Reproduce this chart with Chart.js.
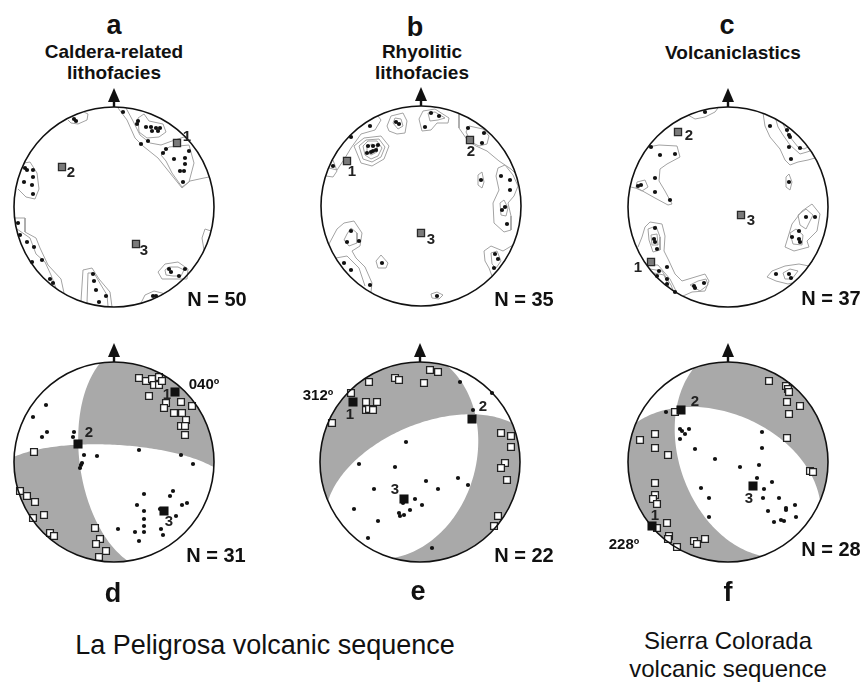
<!DOCTYPE html>
<html>
<head>
<meta charset="utf-8">
<script src="https://cdn.jsdelivr.net/npm/chart.js@4.4.1/dist/chart.umd.min.js"></script>
<style>
  body { margin: 0; background: #fff; }
  #page { position: relative; width: 861px; height: 686px; overflow: hidden; background: #fff;
          font-family: "Liberation Sans", Arial, sans-serif; color: #111; }
  #page canvas { position: absolute; }
  .t { position: absolute; transform: translate(-50%, -50%); line-height: 1; white-space: nowrap; }
</style>
</head>
<body>
<div id="page"></div>
<script>
// ---- Data (net coordinates: x = east, y = north, unit circle = primitive) ----

// a: Caldera-related lithofacies
const aDots = [[0.09,0.95],[0.24,0.86],[0.23,0.83],[0.32,0.80],[0.37,0.80],[0.42,0.79],[0.46,0.79],[0.38,0.76],[0.44,0.76],
  [0.34,0.66],[0.27,0.63],[0.52,0.58],[0.49,0.54],[0.60,0.48],[0.71,0.49],[0.75,0.56],[0.71,0.43],[0.66,0.36],[0.70,0.36],
  [0.69,0.25],[-0.40,0.88],[-0.38,0.86],[-0.89,0.39],[-0.87,0.37],[-0.81,0.37],[-0.81,0.30],[-0.90,0.25],[-0.82,0.22],
  [-0.81,0.13],[-0.96,-0.16],[-0.94,-0.28],[-0.87,-0.35],[-0.80,-0.40],[-0.72,-0.53],[-0.82,-0.55],[-0.64,-0.72],
  [-0.61,-0.76],[-0.21,-0.67],[-0.20,-0.74],[-0.18,-0.83],[-0.08,-0.89],[-0.15,-0.95],[0.55,-0.62],[0.57,-0.65],
  [0.65,-0.69],[0.71,-0.62],[0.39,-0.89],[0.42,-0.89]];
const aKeys = [[0.63,0.64],[-0.52,0.40],[0.22,-0.37]];
const aLoops = [
  [[0.24,0.89],[0.30,0.93],[0.35,0.86],[0.49,0.83],[0.52,0.75],[0.45,0.70],[0.33,0.69],[0.25,0.75]],
  [[0.47,0.52],[0.55,0.60],[0.75,0.62],[0.80,0.44],[0.75,0.25],[0.68,0.20],[0.58,0.34],[0.52,0.46]],
  [[0.44,-0.65],[0.51,-0.57],[0.64,-0.55],[0.74,-0.62],[0.73,-0.72],[0.61,-0.72],[0.48,-0.72]],
  [[0.51,-0.63],[0.55,-0.60],[0.64,-0.60],[0.70,-0.63],[0.67,-0.69],[0.59,-0.69],[0.52,-0.68]]
];
const aArcs = [
  [[0.04,0.99],[0.13,0.87],[0.21,0.69],[0.29,0.61],[0.44,0.49],[0.56,0.34],[0.68,0.19],[0.76,0.26],[0.90,0.29],[0.95,0.30]],
  [[0.12,0.99],[0.19,0.86],[0.26,0.72],[0.36,0.64],[0.47,0.62],[0.58,0.66],[0.70,0.70],[0.72,0.69]],
  [[-0.90,0.44],[-0.84,0.45],[-0.77,0.34],[-0.75,0.18],[-0.79,0.08],[-0.88,0.10],[-0.96,0.18]],
  [[-0.46,0.87],[-0.43,0.84],[-0.36,0.83],[-0.27,0.87],[-0.26,0.93],[-0.30,0.95]],
  [[-0.99,-0.11],[-0.89,-0.11],[-0.89,-0.25],[-0.78,-0.31],[-0.74,-0.41],[-0.66,-0.58],[-0.53,-0.72],[-0.50,-0.86]],
  [[-0.97,-0.22],[-0.84,-0.31],[-0.78,-0.47],[-0.69,-0.55],[-0.63,-0.68],[-0.58,-0.81]],
  [[-0.33,-0.94],[-0.31,-0.63],[-0.22,-0.61],[-0.15,-0.72],[-0.04,-0.85],[-0.02,-1.0]],
  [[-0.27,-0.96],[-0.26,-0.66],[-0.20,-0.66],[-0.13,-0.78],[-0.07,-0.88],[-0.06,-0.99]],
  [[0.27,-0.96],[0.31,-0.88],[0.40,-0.84],[0.48,-0.86],[0.50,-0.87]],
  [[0.90,-0.43],[0.88,-0.31],[0.91,-0.22],[0.97,-0.24]]
];

// b: Rhyolitic lithofacies
const bDots = [[-0.51,0.80],[-0.70,0.69],[-0.88,0.40],[-0.53,0.60],[-0.48,0.60],[-0.43,0.61],[-0.54,0.53],[-0.50,0.54],
  [-0.48,0.55],[-0.45,0.56],[-0.25,0.84],[-0.22,0.82],[0.10,0.93],[0.18,0.90],[0.04,0.79],[0.47,0.78],[0.63,0.73],
  [0.61,0.63],[0.60,0.26],[0.80,0.30],[0.89,0.26],[0.89,0.16],[0.84,-0.01],[0.81,-0.04],[0.86,-0.18],[-0.70,-0.25],
  [-0.74,-0.36],[-0.62,-0.35],[-0.77,-0.57],[-0.70,-0.64],[-0.39,-0.57],[-0.51,-0.79],[0.16,-0.90],[0.74,-0.48],
  [0.77,-0.53],[0.73,-0.62]];
const bKeys = [[-0.74,0.45],[0.49,0.66],[0.00,-0.27]];
const bLoops = [
  [[-0.67,0.60],[-0.57,0.68],[-0.40,0.70],[-0.32,0.60],[-0.37,0.47],[-0.49,0.40],[-0.60,0.43]],
  [[-0.62,0.60],[-0.55,0.66],[-0.42,0.67],[-0.36,0.59],[-0.40,0.49],[-0.49,0.44],[-0.58,0.47]],
  [[-0.58,0.60],[-0.53,0.65],[-0.44,0.65],[-0.39,0.58],[-0.43,0.50],[-0.50,0.47],[-0.56,0.51]],
  [[-0.54,0.59],[-0.49,0.62],[-0.44,0.60],[-0.44,0.54],[-0.50,0.51],[-0.54,0.54]],
  [[-0.34,0.80],[-0.30,0.90],[-0.18,0.93],[-0.14,0.85],[-0.16,0.73],[-0.24,0.72],[-0.32,0.75]],
  [[-0.28,0.83],[-0.26,0.88],[-0.20,0.87],[-0.18,0.80],[-0.23,0.77]],
  [[-0.02,0.87],[0.02,0.95],[0.14,0.97],[0.28,0.88],[0.27,0.83],[0.16,0.83],[0.10,0.76],[0.01,0.75]],
  [[0.07,0.93],[0.14,0.94],[0.24,0.88],[0.17,0.86],[0.09,0.85]],
  [[0.45,0.74],[0.48,0.80],[0.62,0.77],[0.68,0.70],[0.66,0.62],[0.58,0.60],[0.50,0.64]],
  [[0.77,0.38],[0.84,0.41],[0.92,0.31],[0.97,0.20],[0.93,0.10],[0.87,0.03],[0.90,-0.10],[0.90,-0.24],[0.83,-0.26],
   [0.73,-0.17],[0.72,0.03],[0.78,0.16],[0.75,0.30]],
  [[0.79,0.03],[0.83,0.06],[0.87,-0.02],[0.85,-0.10],[0.80,-0.09]],
  [[0.57,0.31],[0.61,0.34],[0.63,0.24],[0.61,0.18],[0.57,0.21]],
  [[-0.74,-0.28],[-0.70,-0.22],[-0.64,-0.27],[-0.64,-0.37],[-0.72,-0.40],[-0.77,-0.34]],
  [[-0.45,-0.55],[-0.40,-0.49],[-0.33,-0.57],[-0.35,-0.62],[-0.43,-0.62]],
  [[0.10,-0.88],[0.16,-0.86],[0.22,-0.89],[0.18,-0.93],[0.11,-0.92]],
  [[0.70,-0.47],[0.76,-0.45],[0.80,-0.55],[0.75,-0.62],[0.71,-0.58]]
];
const bArcs = [
  [[-0.92,0.38],[-0.84,0.36],[-0.76,0.48],[-0.70,0.58],[-0.60,0.72],[-0.46,0.76],[-0.40,0.86],[-0.43,0.90]],
  [[0.38,0.92],[0.38,0.78],[0.47,0.65],[0.55,0.60],[0.66,0.55],[0.78,0.45],[0.90,0.37],[0.94,0.33]],
  [[-0.92,-0.38],[-0.84,-0.23],[-0.77,-0.17],[-0.67,-0.15],[-0.59,-0.27],[-0.61,-0.40],[-0.69,-0.45],[-0.65,-0.52],
   [-0.56,-0.61],[-0.49,-0.77],[-0.50,-0.86]],
  [[-0.85,-0.52],[-0.74,-0.50],[-0.62,-0.62],[-0.56,-0.80]],
  [[0.92,-0.39],[0.82,-0.45],[0.70,-0.40],[0.63,-0.45],[0.64,-0.55],[0.68,-0.62],[0.71,-0.70]],
  [[-0.95,0.30],[-0.88,0.29],[-0.84,0.35],[-0.88,0.46]]
];

// c: Volcaniclastics
const cDots = [[-0.23,0.95],[-0.77,0.60],[-0.68,0.52],[-0.53,0.53],[-0.73,0.29],[-0.90,0.21],[-0.87,0.22],[-0.73,0.15],
  [-0.58,0.07],[0.42,0.81],[0.59,0.77],[0.61,0.72],[0.62,0.70],[0.61,0.60],[0.72,0.59],[0.63,0.48],[0.61,0.25],
  [0.78,-0.10],[0.87,-0.10],[0.71,-0.24],[0.64,-0.30],[0.71,-0.32],[0.72,-0.35],[0.48,-0.67],[0.61,-0.67],[0.63,-0.71],
  [-0.73,-0.21],[-0.74,-0.32],[-0.73,-0.35],[-0.71,-0.42],[-0.61,-0.60],[-0.69,-0.64],[-0.71,-0.69],[-0.61,-0.72],
  [-0.61,-0.77],[-0.53,-0.85],[-0.34,-0.79],[-0.33,-0.81],[-0.24,-0.76]];
const cKeys = [[-0.77,-0.55],[-0.50,0.75],[0.13,-0.08]];
const cLoops = [
  [[0.58,0.30],[0.61,0.33],[0.64,0.25],[0.62,0.17],[0.58,0.20]],
  [[-0.91,0.25],[-0.83,0.27],[-0.80,0.20],[-0.86,0.16],[-0.92,0.19]],
  [[0.57,-0.40],[0.64,-0.17],[0.74,-0.04],[0.84,0.03],[0.92,-0.07],[0.89,-0.24],[0.79,-0.34],[0.81,-0.40],[0.66,-0.44]],
  [[0.70,-0.08],[0.78,-0.02],[0.85,-0.08],[0.78,-0.22],[0.72,-0.18]],
  [[0.62,-0.26],[0.68,-0.22],[0.75,-0.28],[0.74,-0.38],[0.65,-0.37]],
  [[0.55,-0.66],[0.62,-0.62],[0.70,-0.64],[0.64,-0.72],[0.57,-0.72]],
  [[-0.80,-0.22],[-0.72,-0.19],[-0.68,-0.30],[-0.68,-0.43],[-0.75,-0.45],[-0.79,-0.33]],
  [[-0.77,-0.28],[-0.71,-0.27],[-0.70,-0.38],[-0.76,-0.38]],
  [[-0.38,-0.78],[-0.30,-0.74],[-0.22,-0.72],[-0.20,-0.78],[-0.28,-0.84]]
];
const cArcs = [
  [[-0.40,0.92],[-0.33,0.88],[-0.23,0.90],[-0.13,0.95],[-0.10,0.99]],
  [[-0.80,0.60],[-0.69,0.62],[-0.51,0.61],[-0.48,0.50],[-0.61,0.43],[-0.68,0.38],[-0.69,0.26],[-0.63,0.16],[-0.56,0.03],
   [-0.60,0.02],[-0.73,0.09],[-0.89,0.18],[-0.97,0.20]],
  [[0.35,0.94],[0.37,0.81],[0.42,0.70],[0.52,0.58],[0.57,0.47],[0.62,0.42],[0.70,0.45],[0.80,0.47],[0.87,0.49]],
  [[0.48,0.87],[0.50,0.80],[0.55,0.72],[0.62,0.62],[0.72,0.53],[0.79,0.55],[0.82,0.56]],
  [[0.55,0.83],[0.58,0.77],[0.62,0.70],[0.70,0.60],[0.76,0.58],[0.80,0.60]],
  [[0.86,-0.51],[0.81,-0.59],[0.71,-0.57],[0.57,-0.59],[0.44,-0.64],[0.39,-0.70],[0.48,-0.74],[0.60,-0.77],[0.64,-0.76]],
  [[-0.90,-0.40],[-0.86,-0.30],[-0.83,-0.20],[-0.78,-0.15],[-0.66,-0.17],[-0.63,-0.29],[-0.64,-0.44],[-0.59,-0.54],
   [-0.53,-0.67],[-0.46,-0.74],[-0.23,-0.67],[-0.19,-0.74],[-0.23,-0.84],[-0.36,-0.85],[-0.45,-0.89]],
  [[-0.80,-0.58],[-0.70,-0.58],[-0.58,-0.72],[-0.52,-0.84]],
  [[-0.78,-0.62],[-0.66,-0.64],[-0.57,-0.78],[-0.55,-0.83]],
  [[-0.74,-0.66],[-0.64,-0.68],[-0.59,-0.80]]
];

// d: La Peligrosa, caldera-related (squares = poles, dots = lineations)
const dSquares = [[0.25,0.84],[0.32,0.81],[0.38,0.83],[0.45,0.85],[0.40,0.77],[0.45,0.77],[0.48,0.81],[0.35,0.66],
  [0.52,0.59],[0.50,0.54],[0.67,0.60],[0.78,0.56],[0.60,0.49],[0.68,0.49],[0.72,0.42],[0.67,0.36],[0.71,0.36],[0.71,0.27],
  [-0.80,0.10],[-0.94,-0.29],[-0.87,-0.34],[-0.79,-0.40],[-0.70,-0.53],[-0.81,-0.56],[-0.64,-0.71],[-0.60,-0.74],
  [-0.19,-0.66],[-0.14,-0.77],[-0.18,-0.82],[-0.08,-0.89],[-0.15,-0.95]];
const dDots = [[-0.68,0.57],[-0.81,0.45],[-0.67,0.30],[-0.72,0.25],[-0.40,0.30],[-0.41,0.25],[-0.30,0.07],[-0.17,0.06],
  [-0.32,-0.01],[-0.33,-0.03],[-0.34,-0.06],[0.25,0.12],[0.67,0.07],[0.79,-0.02],[0.30,-0.32],[0.59,-0.29],[0.56,-0.34],
  [0.68,-0.43],[0.73,-0.41],[0.23,-0.43],[0.30,-0.49],[0.30,-0.57],[0.30,-0.64],[0.21,-0.70],[0.30,-0.70],[0.25,-0.79],
  [0.47,-0.67],[0.49,-0.73],[0.62,-0.54],[0.04,-0.67],[0.46,-0.47]];
const dKeys = [[0.61,0.70],[-0.36,0.18],[0.50,-0.49]];
const dPlanes = [[262,62],[3,76]];   // [dip direction, dip]

// e: La Peligrosa, rhyolitic
const eSquares = [[0.10,0.92],[0.18,0.90],[0.04,0.79],[-0.25,0.84],[-0.21,0.82],[-0.51,0.80],[-0.69,0.69],[-0.54,0.60],
  [-0.43,0.60],[-0.54,0.52],[-0.51,0.53],[-0.47,0.52],[-0.88,0.39],[0.81,0.29],[0.91,0.26],[0.91,0.15],[0.85,-0.01],
  [0.81,-0.06],[0.87,-0.18],[0.78,-0.54],[0.74,-0.64]];
const eDots = [[0.40,0.80],[0.72,0.69],[0.53,0.52],[-0.14,0.20],[-0.61,-0.02],[-0.25,-0.05],[-0.46,-0.27],[0.06,-0.19],
  [0.18,-0.27],[0.38,-0.16],[0.48,-0.23],[-0.05,-0.37],[0.02,-0.43],[-0.10,-0.48],[-0.21,-0.51],[-0.20,-0.54],
  [-0.16,-0.53],[-0.17,-0.41],[-0.66,-0.47],[-0.42,-0.59],[-0.52,-0.76],[0.12,-0.86]];
const eKeys = [[-0.67,0.60],[0.52,0.43],[-0.16,-0.37]];
const ePlanes = [[106,44],[337,60]];

// f: Sierra Colorada, volcaniclastics
const fSquares = [[0.41,0.81],[0.58,0.76],[0.60,0.73],[0.61,0.70],[0.59,0.60],[0.72,0.56],[0.61,0.48],[0.59,0.24],
  [0.82,-0.09],[0.85,-0.10],[-0.53,0.50],[-0.88,0.22],[-0.73,0.28],[-0.73,0.14],[-0.60,0.07],[-0.73,-0.21],[-0.73,-0.33],
  [-0.75,-0.37],[-0.71,-0.42],[-0.61,-0.61],[-0.71,-0.66],[-0.59,-0.74],[-0.60,-0.77],[-0.51,-0.85],[-0.34,-0.79],
  [-0.31,-0.82],[-0.23,-0.77]];
const fDots = [[-0.62,0.50],[-0.48,0.33],[-0.46,0.31],[-0.39,0.33],[-0.43,0.28],[-0.48,0.23],[-0.33,0.13],[-0.13,0.03],
  [0.12,-0.05],[0.31,-0.03],[0.34,0.30],[0.34,0.14],[-0.27,-0.26],[-0.19,-0.36],[-0.19,-0.55],[0.29,-0.16],[0.44,-0.20],
  [0.36,-0.27],[0.35,-0.36],[0.51,-0.36],[0.40,-0.49],[0.58,-0.46],[0.58,-0.48],[0.67,-0.43],[0.68,-0.55],[0.46,-0.60],
  [0.53,-0.58],[0.56,-0.59]];
const fKeys = [[-0.76,-0.64],[-0.47,0.52],[0.25,-0.24]];
const fPlanes = [[250,51],[23,51]];

const keyNames = ['1', '2', '3'];

// ---- Projection helpers (lower hemisphere, equal area) ----
const rad = Math.PI / 180;

function netPoint(trend, plunge) {
  const r = Math.SQRT2 * Math.sin((90 - plunge) * rad / 2);
  return { x: r * Math.sin(trend * rad), y: r * Math.cos(trend * rad) };
}

// great circle of a plane, closed along the primitive on its dip side
function dipSide(dipDir, dip) {
  const pts = [];
  const s = (dipDir - 90) * rad, d = dipDir * rad, k = dip * rad;
  for (let a = 0; a <= 180; a += 2) {
    const c = Math.cos(a * rad), sn = Math.sin(a * rad);
    const e = c * Math.sin(s) + sn * Math.sin(d) * Math.cos(k);
    const n = c * Math.cos(s) + sn * Math.cos(d) * Math.cos(k);
    const down = Math.min(1, sn * Math.sin(k));
    pts.push(netPoint(Math.atan2(e, n) / rad, Math.asin(down) / rad));
  }
  for (let t = dipDir + 90; t >= dipDir - 90; t -= 2) pts.push(netPoint(t, 0));
  return pts;
}

const xy = arr => arr.map(p => ({ x: p[0], y: p[1] }));

// ---- Drawing ----
function netPlugin(cfg) {
  return {
    id: 'net',
    beforeDatasetsDraw(chart) {
      if (!cfg.planes) return;
      const { ctx, scales: { x, y } } = chart;
      ctx.save();
      ctx.beginPath();
      cfg.planes.forEach(p => {
        dipSide(p[0], p[1]).forEach((pt, i) => {
          const px = x.getPixelForValue(pt.x), py = y.getPixelForValue(pt.y);
          if (i) ctx.lineTo(px, py); else ctx.moveTo(px, py);
        });
        ctx.closePath();
      });
      ctx.fillStyle = '#a9a9a9';
      ctx.fill('evenodd');
      ctx.restore();
    },
    afterDatasetsDraw(chart) {
      const { ctx, scales: { x, y } } = chart;
      const cx = x.getPixelForValue(0), cy = y.getPixelForValue(0);
      const R = x.getPixelForValue(1) - cx;
      ctx.save();
      // primitive
      ctx.beginPath();
      ctx.arc(cx, cy, R, 0, Math.PI * 2);
      ctx.lineWidth = 1.6;
      ctx.strokeStyle = '#111';
      ctx.stroke();
      // north arrow
      const top = cy - R;
      ctx.fillStyle = '#111';
      ctx.fillRect(cx - 1.2, top - 7, 2.4, 7);
      ctx.beginPath();
      ctx.moveTo(cx, top - 19);
      ctx.lineTo(cx + 6, top - 5);
      ctx.lineTo(cx - 6, top - 5);
      ctx.closePath();
      ctx.fill();
      // numbered key directions
      ctx.font = 'bold 15px "Liberation Sans", Arial, sans-serif';
      ctx.textAlign = 'center';
      ctx.textBaseline = 'middle';
      ctx.fillStyle = '#222';
      cfg.keys.forEach((k, i) => {
        const o = cfg.offsets[i];
        ctx.fillText(keyNames[i], x.getPixelForValue(k[0]) + o[0], y.getPixelForValue(k[1]) + o[1]);
      });
      ctx.restore();
    }
  };
}

function lineSet(arr, closed) {
  const pts = xy(arr);
  if (closed) pts.push(pts[0]);
  return { data: pts, showLine: true, pointRadius: 0, borderColor: '#a3a3a3', borderWidth: 1, fill: false };
}

function makeNet(cfg) {
  const canvas = document.createElement('canvas');
  canvas.width = 240;
  canvas.height = 240;
  canvas.style.left = (cfg.cx - 120) + 'px';
  canvas.style.top = (cfg.cy - 120) + 'px';
  document.getElementById('page').appendChild(canvas);

  const datasets = [];
  if (cfg.planes) {
    datasets.push({ data: xy(cfg.keys), pointStyle: 'rect', pointRadius: 6.4,
      pointBackgroundColor: '#111', pointBorderColor: '#111', pointBorderWidth: 0 });
  } else {
    datasets.push({ data: xy(cfg.keys), pointStyle: 'rect', pointRadius: 5,
      pointBackgroundColor: '#7a7a7a', pointBorderColor: '#2a2a2a', pointBorderWidth: 1.3 });
  }
  if (cfg.squares) {
    datasets.push({ data: xy(cfg.squares), pointStyle: 'rect', pointRadius: 4.8,
      pointBackgroundColor: '#fff', pointBorderColor: '#222', pointBorderWidth: 1.3 });
  }
  datasets.push({ data: xy(cfg.dots), pointStyle: 'circle', pointRadius: 2.1,
    pointBackgroundColor: '#111', pointBorderWidth: 0 });
  (cfg.loops || []).forEach(l => datasets.push(lineSet(l, true)));
  (cfg.arcs || []).forEach(l => datasets.push(lineSet(l, false)));

  new Chart(canvas, {
    type: 'scatter',
    data: { datasets },
    options: {
      responsive: false,
      animation: false,
      devicePixelRatio: 1,
      layout: { padding: 20 },
      scales: {
        x: { type: 'linear', min: -1, max: 1, display: false },
        y: { type: 'linear', min: -1, max: 1, display: false }
      },
      plugins: { legend: { display: false }, tooltip: { enabled: false } }
    },
    plugins: [netPlugin(cfg)]
  });
}

makeNet({ cx: 114, cy: 207, dots: aDots, keys: aKeys, loops: aLoops, arcs: aArcs, offsets: [[10,-6],[9,6],[8,7]] });
makeNet({ cx: 421, cy: 206, dots: bDots, keys: bKeys, loops: bLoops, arcs: bArcs, offsets: [[5,11],[1,12],[10,7]] });
makeNet({ cx: 728, cy: 207, dots: cDots, keys: cKeys, loops: cLoops, arcs: cArcs, offsets: [[-13,6],[11,4],[10,6]] });
makeNet({ cx: 114, cy: 462, dots: dDots, squares: dSquares, keys: dKeys, planes: dPlanes, offsets: [[-8,3],[11,-11],[5,11]] });
makeNet({ cx: 420, cy: 462, dots: eDots, squares: eSquares, keys: eKeys, planes: ePlanes, offsets: [[-3,13],[11,-12],[-9,-9]] });
makeNet({ cx: 728, cy: 462, dots: fDots, squares: fSquares, keys: fKeys, planes: fPlanes, offsets: [[3,-10],[14,-8],[-4,13]] });

// ---- Text ----
function text(str, x, y, css) {
  const el = document.createElement('div');
  el.className = 't';
  el.textContent = str;
  el.style.left = x + 'px';
  el.style.top = y + 'px';
  el.style.cssText += css;
  document.getElementById('page').appendChild(el);
}
const big = 'font-weight:bold;font-size:27px;';
const sub = 'font-weight:bold;font-size:19px;';
const nn = 'font-weight:bold;font-size:20px;';
const deg = 'font-weight:bold;font-size:15px;';
const cap = 'font-size:24px;';

text('a', 114, 25, big);
text('b', 415, 27, big);
text('c', 727, 25, big);
text('Caldera-related', 114, 51, sub);
text('lithofacies', 114, 72, sub);
text('Rhyolitic', 422, 51, sub);
text('lithofacies', 422, 72, sub);
text('Volcaniclastics', 733, 52, sub);
text('N = 50', 217, 299, nn);
text('N = 35', 524, 299, nn);
text('N = 37', 831, 298, nn);
text('N = 31', 216, 555, nn);
text('N = 22', 524, 555, nn);
text('N = 28', 831, 549, nn);
text('040º', 204, 383, deg);
text('312º', 318, 394, deg);
text('228º', 624, 543, deg);
text('d', 113, 593, big);
text('e', 418, 591, big);
text('f', 728, 592, big);
text('La Peligrosa volcanic sequence', 265, 645, 'font-size:27px;');
text('Sierra Colorada', 728, 641, cap);
text('volcanic sequence', 728, 669, cap);
</script>
</body>
</html>
